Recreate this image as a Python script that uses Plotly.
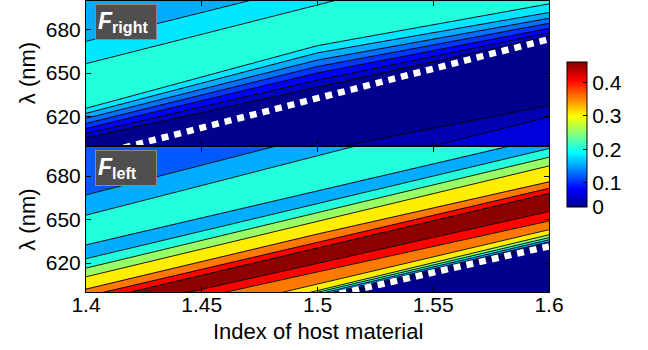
import plotly.graph_objects as go
from plotly.colors import sample_colorscale

# ---------------- data ----------------
N_PTS = [1.4, 1.5, 1.6]                     # index of host material where line positions were read
X_RANGE = [1.4, 1.6]
LAM_RANGE = [600, 700]
X_TICKS = [1.4, 1.45, 1.5, 1.55, 1.6]
X_TICKTEXT = ["1.4", "1.45", "1.5", "1.55", "1.6"]
Y_TICKS = [620, 650, 680]
X_TITLE = "Index of host material"
Y_TITLE = "λ (nm)"

# F_right: contour lines, lambda (nm) at n = 1.4 / 1.5 / 1.6 (top-left -> bottom-right)
RIGHT_LINES = [
    [672.0, 712.0, 752.0],
    [656.5, 697.0, 738.0],
    [625.5, 669.0, 698.0],
    [622.0, 664.0, 692.0],
    [618.5, 659.0, 688.0],
    [615.0, 654.5, 684.5],
    [611.5, 650.0, 681.0],
    [608.0, 645.0, 678.0],
    [605.0, 640.5, 675.5],
    [564.0, 596.0, 627.5],
    [539.0, 579.0, 619.5],
]
# F_right value of each band between the lines (one more than lines)
RIGHT_BANDS = [0.155, 0.18, 0.205, 0.18, 0.155, 0.13, 0.105, 0.08, 0.055, 0.028, 0.045, 0.065]
RIGHT_DASH = [591.5, 632.5, 673.5]

# F_left: contour lines
LEFT_LINES = [
    [667.0, 708.0, 750.0],
    [653.0, 694.0, 735.0],
    [632.5, 670.0, 707.0],
    [623.0, 661.0, 699.0],
    [616.5, 654.5, 693.0],
    [610.5, 649.0, 687.0],
    [602.0, 640.0, 676.0],
    [597.0, 634.5, 671.5],
    [592.7, 630.4, 668.0],
    [584.0, 619.8, 655.5],
    [578.7, 613.8, 649.0],
    [568.0, 605.5, 643.0],
    [562.5, 601.0, 639.5],
    [561.0, 599.8, 637.5],
    [559.0, 598.5, 636.0],
    [557.5, 597.3, 634.5],
    [556.0, 596.3, 633.5],
    [554.5, 595.5, 632.0],
]
LEFT_BANDS = [0.12, 0.155, 0.205, 0.155, 0.205, 0.255, 0.305, 0.355, 0.405, 0.455,
              0.405, 0.355, 0.305, 0.255, 0.205, 0.155, 0.105, 0.055, 0.028]
LEFT_DASH = [559.3, 595.4, 631.5]

C_MIN, C_MAX = 0.028, 0.46
CB_TICKS = [0.028, 0.1, 0.2, 0.3, 0.4]
CB_TICKTEXT = ["0", "0.1", "0.2", "0.3", "0.4"]

# ---------------- styling ----------------
JET = [[0.0, "rgb(0,0,140)"], [0.125, "rgb(0,0,255)"], [0.375, "rgb(0,255,255)"],
       [0.625, "rgb(255,255,0)"], [0.875, "rgb(255,0,0)"], [1.0, "rgb(128,0,0)"]]
FONT = "Liberation Sans, Arial, Helvetica, sans-serif"


def band_color(v):
    f = min(max((v - C_MIN) / (C_MAX - C_MIN), 0.0), 1.0)
    return sample_colorscale(JET, [f])[0]


fig = go.Figure()


def add_panel(lines, bands, dash, xa, ya):
    far_hi = [LAM_RANGE[1] + 300] * len(N_PTS)
    far_lo = [LAM_RANGE[0] - 300] * len(N_PTS)
    bounds = [far_hi] + lines + [far_lo]
    for i, v in enumerate(bands):
        upper, lower = bounds[i], bounds[i + 1]
        col = band_color(v)
        fig.add_trace(go.Scatter(
            x=N_PTS + N_PTS[::-1], y=upper + lower[::-1], mode="lines",
            fill="toself", fillcolor=col, line=dict(color=col, width=0.6),
            xaxis=xa, yaxis=ya, hoverinfo="skip", showlegend=False))
    xs, ys = [], []
    for ln in lines:
        xs += N_PTS + [None]
        ys += ln + [None]
    fig.add_trace(go.Scatter(x=xs, y=ys, mode="lines", line=dict(color="black", width=0.9),
                             xaxis=xa, yaxis=ya, hoverinfo="skip", showlegend=False))
    fig.add_trace(go.Scatter(x=N_PTS, y=dash, mode="lines",
                             line=dict(color="white", width=6.5, dash="7px,6px"),
                             xaxis=xa, yaxis=ya, hoverinfo="skip", showlegend=False))


add_panel(RIGHT_LINES, RIGHT_BANDS, RIGHT_DASH, "x", "y")
add_panel(LEFT_LINES, LEFT_BANDS, LEFT_DASH, "x2", "y2")

# colour bar
cbar = dict(x=1.039, xanchor="left", xpad=0, y=0.541, yanchor="middle", ypad=0,
            thickness=20, len=145, lenmode="pixels",
            outlinecolor="black", outlinewidth=1,
            tickvals=CB_TICKS, ticktext=CB_TICKTEXT,
            ticks="inside", ticklen=4, tickcolor="black",
            tickfont=dict(size=21, color="black", family=FONT))
fig.add_trace(go.Scatter(
    x=[1.5], y=[650], mode="markers", xaxis="x", yaxis="y", hoverinfo="skip", showlegend=False,
    marker=dict(size=1, opacity=0, color=[C_MIN], cmin=C_MIN, cmax=C_MAX, colorscale=JET,
                showscale=True, colorbar=cbar)))

axis_common = dict(showline=True, linecolor="black", linewidth=1, mirror="ticks",
                   ticks="inside", ticklen=5, tickcolor="black", showgrid=False, zeroline=False,
                   tickfont=dict(size=21, family=FONT, color="black"))

fig.update_layout(
    width=648, height=350,
    margin=dict(l=86, r=99, t=1, b=58),
    paper_bgcolor="white", plot_bgcolor="white",
    font=dict(family=FONT, size=20, color="black"),
    xaxis=dict(domain=[0, 1], range=X_RANGE, anchor="y", tickvals=X_TICKS,
               showticklabels=False, **axis_common),
    yaxis=dict(domain=[0.505, 1], range=LAM_RANGE, anchor="x", tickvals=Y_TICKS, **axis_common),
    xaxis2=dict(domain=[0, 1], range=X_RANGE, anchor="y2", tickvals=X_TICKS,
                ticktext=X_TICKTEXT, ticklabelstandoff=-6, **axis_common),
    yaxis2=dict(domain=[0, 0.498], range=LAM_RANGE, anchor="x2", tickvals=Y_TICKS, **axis_common),
)

# axis titles
fig.add_annotation(xref="paper", yref="paper", x=0.5, y=-0.135, xanchor="center", yanchor="middle",
                   text=X_TITLE, showarrow=False, font=dict(size=22, family=FONT, color="black"))
for yc in [0.7525, 0.249]:
    fig.add_annotation(xref="paper", yref="paper", x=-0.127, y=yc, xanchor="center",
                       yanchor="middle", text=Y_TITLE, textangle=-90, showarrow=False,
                       font=dict(size=22, family=FONT, color="black"))

for label, xref, yref in [("right", "x domain", "y domain"), ("left", "x2 domain", "y2 domain")]:
    fig.add_annotation(
        xref=xref, yref=yref,
        x=0.019, y=0.98, xanchor="left", yanchor="top", showarrow=False,
        text="<b><i>F</i></b><b><sub>" + label + "</sub></b>",
        font=dict(size=23, color="white", family=FONT),
        bgcolor="#4f4f4f", bordercolor="#8a8a8a", borderwidth=1, borderpad=2,
        width=56, height=30, align="left", valign="middle")

fig.write_html("out.html")
